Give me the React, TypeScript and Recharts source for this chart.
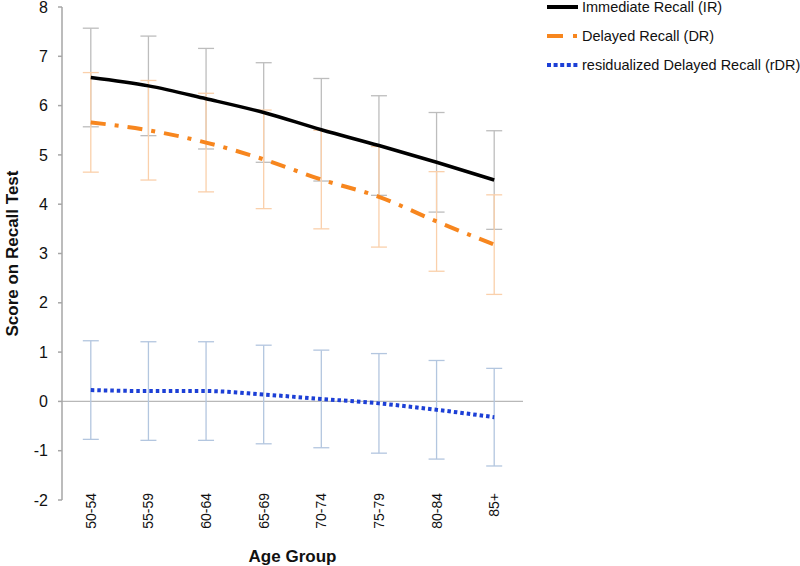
import React from "react";
import {
  ComposedChart,
  Line,
  XAxis,
  YAxis,
  ErrorBar,
  ReferenceLine,
  Legend,
} from "recharts";

const ageGroups = ["50-54", "55-59", "60-64", "65-69", "70-74", "75-79", "80-84", "85+"];
const irValues = [6.57, 6.4, 6.14, 5.86, 5.51, 5.19, 4.85, 4.49];
const irErrors = [1.0, 1.01, 1.02, 1.01, 1.04, 1.01, 1.01, 1.0];
const drValues = [5.66, 5.5, 5.25, 4.91, 4.5, 4.15, 3.65, 3.18];
const drErrors = [1.01, 1.01, 1.0, 1.0, 1.0, 1.02, 1.01, 1.01];
const rdrValues = [0.23, 0.21, 0.21, 0.14, 0.05, -0.04, -0.17, -0.32];
const rdrErrors = [1.0, 1.0, 1.0, 1.0, 0.99, 1.01, 1.0, 0.99];
const yTicks = [-2, -1, 0, 1, 2, 3, 4, 5, 6, 7, 8];
const seriesNames = ["Immediate Recall (IR)", "Delayed Recall (DR)", "residualized Delayed Recall (rDR)"];

const data = ageGroups.map((age, i) => ({
  age,
  ir: irValues[i],
  irErr: irErrors[i],
  dr: drValues[i],
  drErr: drErrors[i],
  rdr: rdrValues[i],
  rdrErr: rdrErrors[i],
}));

const FONT = "'Liberation Sans', Arial, sans-serif";
const IR_COLOR = "#000000";
const DR_COLOR = "#F7861E";
const RDR_COLOR = "#1C3FD6";
const DR_DASH = "15 9 4 9";
const RDR_DASH = "3.5 3";

const legendItems = [
  { name: seriesNames[0], color: IR_COLOR, dash: undefined as string | undefined },
  { name: seriesNames[1], color: DR_COLOR, dash: "16 10 4 10" },
  { name: seriesNames[2], color: RDR_COLOR, dash: "4 2.6" },
];

const XTick = (props: any) => {
  const { x, y, payload } = props;
  return (
    <text
      x={x}
      y={y}
      transform={`rotate(-90, ${x}, ${y})`}
      textAnchor="end"
      dominantBaseline="central"
      fontFamily={FONT}
      fontSize={14}
      fill="#111"
      dx={7}
    >
      {payload.value}
    </text>
  );
};

const LegendContent = () => {
  return (
    <svg width={260} height={80} style={{ overflow: "visible" }}>
      {legendItems.map((p, i) => {
        const cy = 7 + i * 29;
        return (
          <g key={i}>
            <line x1={2} x2={33} y1={cy} y2={cy} stroke={p.color} strokeWidth={4} strokeDasharray={p.dash} />
            <text x={37} y={cy} dominantBaseline="central" fontFamily={FONT} fontSize={14.5} fill="#111">
              {p.name}
            </text>
          </g>
        );
      })}
    </svg>
  );
};

const YLabel = (props: any) => {
  const { viewBox } = props;
  const cx = viewBox.x + 12;
  const cy = viewBox.y + viewBox.height / 2;
  return (
    <text
      x={cx}
      y={cy}
      transform={`rotate(-90, ${cx}, ${cy})`}
      textAnchor="middle"
      dominantBaseline="central"
      fontFamily={FONT}
      fontWeight="bold"
      fontSize={17}
      fill="#111"
    >
      Score on Recall Test
    </text>
  );
};

const XLabel = (props: any) => {
  const { viewBox } = props;
  const cx = viewBox.x + viewBox.width / 2;
  const cy = viewBox.y + 56;
  return (
    <text
      x={cx}
      y={cy}
      textAnchor="middle"
      dominantBaseline="central"
      fontFamily={FONT}
      fontWeight="bold"
      fontSize={17}
      fill="#111"
    >
      Age Group
    </text>
  );
};

export default function App() {
  return (
    <div style={{ position: "absolute", left: 0, top: 0, width: 800, height: 566, background: "#fff" }}>
      <ComposedChart
        width={800}
        height={566}
        data={data}
        margin={{ top: 7, right: 277, bottom: 0, left: 0 }}
      >
        <XAxis
          dataKey="age"
          axisLine={false}
          tickLine={false}
          tickSize={0}
          tickMargin={0}
          height={66}
          interval={0}
          padding={{ left: 28.8, right: 28.8 }}
          tick={<XTick />}
          label={<XLabel />}
        />
        <YAxis
          type="number"
          domain={[-2, 8]}
          ticks={yTicks}
          interval={0}
          width={62}
          axisLine={{ stroke: "#a6a6a6", strokeWidth: 1.5 }}
          tickLine={{ stroke: "#a6a6a6", strokeWidth: 1.5 }}
          tickSize={4}
          tickMargin={10}
          tick={{ fontFamily: FONT, fontSize: 16, fill: "#111" }}
          label={<YLabel />}
        />
        <ReferenceLine y={0} stroke="#b8b8b8" strokeWidth={1.2} />

        <Line dataKey="ir" stroke="none" dot={false} activeDot={false} legendType="none" isAnimationActive={false}>
          <ErrorBar dataKey="irErr" width={8} stroke="#bdbdbd" strokeWidth={1.3} direction="y" />
        </Line>
        <Line dataKey="dr" stroke="none" dot={false} activeDot={false} legendType="none" isAnimationActive={false}>
          <ErrorBar dataKey="drErr" width={8} stroke="#FAD0AB" strokeWidth={1.3} direction="y" />
        </Line>
        <Line dataKey="rdr" stroke="none" dot={false} activeDot={false} legendType="none" isAnimationActive={false}>
          <ErrorBar dataKey="rdrErr" width={8} stroke="#B3C6DF" strokeWidth={1.3} direction="y" />
        </Line>

        <Line
          name={seriesNames[0]}
          dataKey="ir"
          type="monotone"
          stroke={IR_COLOR}
          strokeWidth={3.5}
          dot={false}
          activeDot={false}
          isAnimationActive={false}
        />
        <Line
          name={seriesNames[1]}
          dataKey="dr"
          type="monotone"
          stroke={DR_COLOR}
          strokeWidth={4}
          strokeDasharray={DR_DASH}
          dot={false}
          activeDot={false}
          isAnimationActive={false}
        />
        <Line
          name={seriesNames[2]}
          dataKey="rdr"
          type="monotone"
          stroke={RDR_COLOR}
          strokeWidth={4}
          strokeDasharray={RDR_DASH}
          dot={false}
          activeDot={false}
          isAnimationActive={false}
        />
        <Legend
          layout="vertical"
          align="center"
          verticalAlign="middle"
          content={<LegendContent />}
          wrapperStyle={{ left: 545, top: 0, width: 260, height: 80 }}
        />
      </ComposedChart>
    </div>
  );
}
